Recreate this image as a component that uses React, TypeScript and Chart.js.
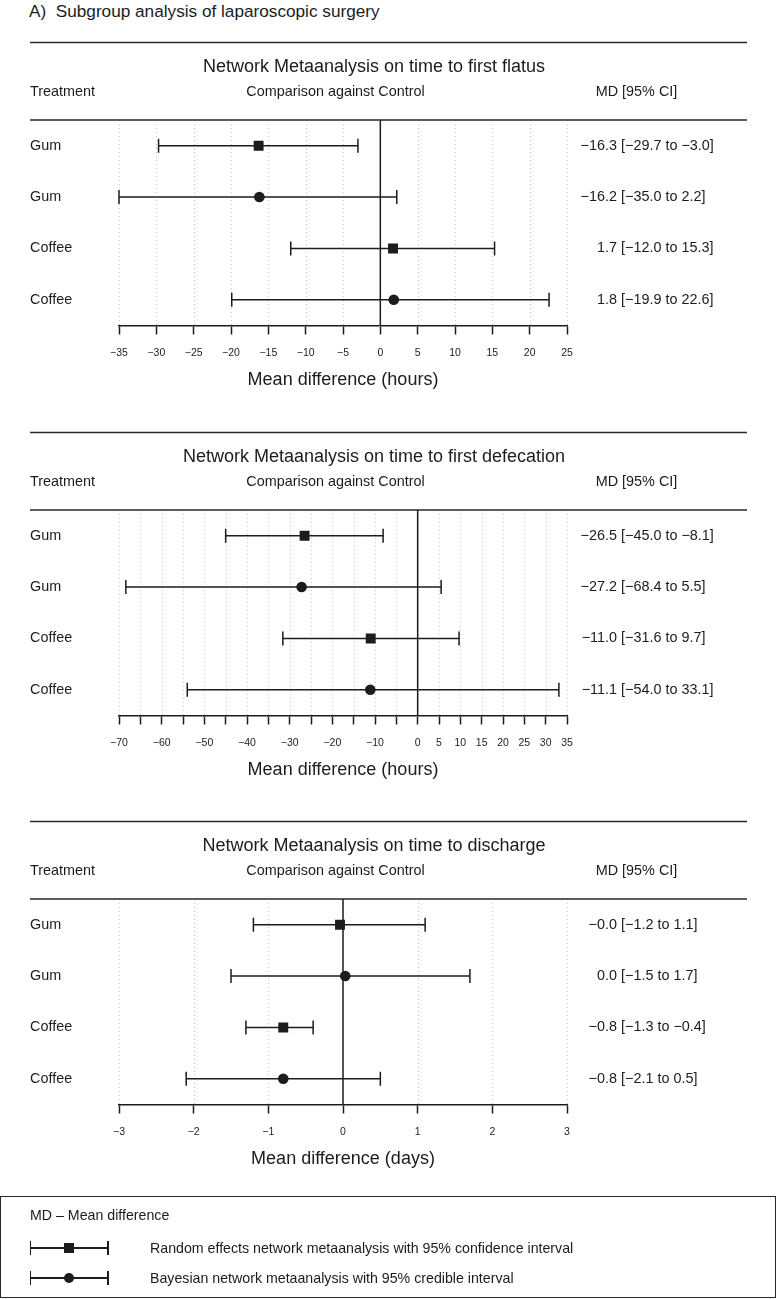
import React, { useEffect, useRef } from "react";
import { Chart, registerables } from "chart.js";

Chart.register(...registerables);

// ---------- data ----------
const treatments = ["Gum", "Gum", "Coffee", "Coffee"];
const methods = ["RE", "Bayes", "RE", "Bayes"]; // RE = square, Bayes = circle

const flatusEst = [-16.3, -16.2, 1.7, 1.8];
const flatusLo = [-29.7, -35.0, -12.0, -19.9];
const flatusHi = [-3.0, 2.2, 15.3, 22.6];
const flatusTicks = [-35, -30, -25, -20, -15, -10, -5, 0, 5, 10, 15, 20, 25];
const flatusTickLabels = [-35, -30, -25, -20, -15, -10, -5, 0, 5, 10, 15, 20, 25];

const defecEst = [-26.5, -27.2, -11.0, -11.1];
const defecLo = [-45.0, -68.4, -31.6, -54.0];
const defecHi = [-8.1, 5.5, 9.7, 33.1];
const defecTicks = [-70, -65, -60, -55, -50, -45, -40, -35, -30, -25, -20, -15, -10, -5, 0, 5, 10, 15, 20, 25, 30, 35];
const defecTickLabels = [-70, -60, -50, -40, -30, -20, -10, 0, 5, 10, 15, 20, 25, 30, 35];

const dischEst = [-0.04, 0.03, -0.8, -0.8];
const dischLo = [-1.2, -1.5, -1.3, -2.1];
const dischHi = [1.1, 1.7, -0.4, 0.5];
const dischTicks = [-3, -2, -1, 0, 1, 2, 3];
const dischTickLabels = [-3, -2, -1, 0, 1, 2, 3];

const panelTitles = [
  "Network Metaanalysis on time to first flatus",
  "Network Metaanalysis on time to first defecation",
  "Network Metaanalysis on time to discharge",
];
const axisTitles = ["Mean difference (hours)", "Mean difference (hours)", "Mean difference (days)"];

// ---------- style ----------
const FONT = '"Liberation Sans", Arial, Helvetica, sans-serif';
const INK = "#1c1c1c";
const RULE = "#2a2a2a";
const BODY = 14.4;

type Panel = {
  title: string;
  axisTitle: string;
  est: number[];
  lo: number[];
  hi: number[];
  ticks: number[];
  tickLabels: number[];
};

const panels: Panel[] = [
  { title: panelTitles[0], axisTitle: axisTitles[0], est: flatusEst, lo: flatusLo, hi: flatusHi, ticks: flatusTicks, tickLabels: flatusTickLabels },
  { title: panelTitles[1], axisTitle: axisTitles[1], est: defecEst, lo: defecLo, hi: defecHi, ticks: defecTicks, tickLabels: defecTickLabels },
  { title: panelTitles[2], axisTitle: axisTitles[2], est: dischEst, lo: dischLo, hi: dischHi, ticks: dischTicks, tickLabels: dischTickLabels },
];

const panelTops = [30, 420, 809];
const PANEL_H = 390;

const minus = (s: string) => s.replace(/-/g, "\u2212");
const fmt1 = (v: number) => minus(v.toFixed(1));

function forestPlugin(p: Panel) {
  return {
    id: "forest",
    beforeDatasetsDraw(chart: any) {
      const { ctx, chartArea: ca } = chart;
      const x = chart.scales.x;
      const y = chart.scales.y;
      ctx.save();
      // dotted reference grid
      ctx.strokeStyle = "#c4c4c4";
      ctx.lineWidth = 1;
      ctx.setLineDash([1, 3]);
      for (const v of p.ticks) {
        const px = Math.round(x.getPixelForValue(v)) + 0.5;
        ctx.beginPath();
        ctx.moveTo(px, ca.top);
        ctx.lineTo(px, ca.bottom);
        ctx.stroke();
      }
      ctx.setLineDash([]);
      // line of no effect
      ctx.strokeStyle = INK;
      ctx.lineWidth = 1.5;
      const zx = x.getPixelForValue(0);
      ctx.beginPath();
      ctx.moveTo(zx, ca.top);
      ctx.lineTo(zx, ca.bottom);
      ctx.stroke();
      // interval bars with caps
      p.est.forEach((_, i) => {
        const py = y.getPixelForValue(i);
        const x1 = x.getPixelForValue(p.lo[i]);
        const x2 = x.getPixelForValue(p.hi[i]);
        ctx.beginPath();
        ctx.moveTo(x1, py);
        ctx.lineTo(x2, py);
        ctx.moveTo(x1, py - 7);
        ctx.lineTo(x1, py + 7);
        ctx.moveTo(x2, py - 7);
        ctx.lineTo(x2, py + 7);
        ctx.stroke();
      });
      ctx.restore();
    },
    afterDraw(chart: any) {
      const { ctx, chartArea: ca } = chart;
      const y = chart.scales.y;
      ctx.save();
      // rules
      ctx.strokeStyle = RULE;
      ctx.lineWidth = 1.6;
      ctx.beginPath();
      ctx.moveTo(30, 12.5);
      ctx.lineTo(747, 12.5);
      ctx.moveTo(30, ca.top);
      ctx.lineTo(747, ca.top);
      ctx.stroke();
      // headings
      ctx.fillStyle = INK;
      ctx.textBaseline = "middle";
      ctx.font = `18px ${FONT}`;
      ctx.textAlign = "center";
      ctx.fillText(p.title, 374, 37.5);
      ctx.font = `${BODY}px ${FONT}`;
      ctx.fillText("Comparison against Control", 335.5, 62.5);
      ctx.fillText("MD [95% CI]", 636.5, 62.5);
      ctx.textAlign = "left";
      ctx.fillText("Treatment", 30, 62.5);
      // rows
      p.est.forEach((e, i) => {
        const py = y.getPixelForValue(i);
        ctx.textAlign = "left";
        ctx.fillText(treatments[i], 30, py);
        ctx.textAlign = "right";
        ctx.fillText(fmt1(e), 617, py);
        ctx.textAlign = "left";
        ctx.fillText(` [${fmt1(p.lo[i])} to ${fmt1(p.hi[i])}]`, 617, py);
      });
      ctx.restore();
    },
  };
}

function ForestPanel({ panel, top }: { panel: Panel; top: number }) {
  const ref = useRef<HTMLCanvasElement | null>(null);
  useEffect(() => {
    if (!ref.current) return;
    const idx = treatments.map((_, i) => i);
    const chart = new Chart(ref.current, {
      type: "scatter",
      data: {
        datasets: [
          {
            label: "Random effects network metaanalysis",
            data: idx.filter((i) => methods[i] === "RE").map((i) => ({ x: panel.est[i], y: i })),
            pointStyle: "rect",
            pointRadius: 7,
            pointBackgroundColor: INK,
            pointBorderColor: INK,
            pointBorderWidth: 0,
          },
          {
            label: "Bayesian network metaanalysis",
            data: idx.filter((i) => methods[i] === "Bayes").map((i) => ({ x: panel.est[i], y: i })),
            pointStyle: "circle",
            pointRadius: 5.3,
            pointBackgroundColor: INK,
            pointBorderColor: INK,
            pointBorderWidth: 0,
          },
        ],
      },
      options: {
        animation: false,
        responsive: false,
        events: [],
        layout: { padding: { left: 119, right: 209, top: 90, bottom: 29.5 } },
        plugins: { legend: { display: false }, tooltip: { enabled: false } },
        scales: {
          y: { type: "linear", min: -0.5, max: 3.5, reverse: true, display: false },
          x: {
            type: "linear",
            min: panel.ticks[0],
            max: panel.ticks[panel.ticks.length - 1],
            afterBuildTicks: (scale: any) => {
              scale.ticks = panel.ticks.map((v) => ({ value: v }));
            },
            afterFit: (scale: any) => {
              scale.height = 65;
            },
            ticks: {
              autoSkip: false,
              maxRotation: 0,
              padding: 12,
              color: INK,
              font: { family: FONT, size: 10.5 },
              callback: (v: any) => (panel.tickLabels.includes(Number(v)) ? minus(String(v)) : ""),
            },
            grid: {
              display: true,
              drawOnChartArea: false,
              drawTicks: true,
              tickLength: 9,
              tickColor: INK,
              tickWidth: 1.5,
            },
            border: { display: true, color: INK, width: 1.5 },
            title: {
              display: true,
              text: panel.axisTitle,
              color: INK,
              font: { family: FONT, size: 18 },
              padding: 0,
            },
          },
        },
      },
      plugins: [forestPlugin(panel)],
    } as any);
    return () => chart.destroy();
  }, [panel]);
  return (
    <canvas
      ref={ref}
      width={776}
      height={PANEL_H}
      style={{ position: "absolute", left: 0, top, width: 776, height: PANEL_H }}
    />
  );
}

function LegendIcon({ y, shape }: { y: number; shape: "square" | "circle" }) {
  return (
    <>
      <div style={{ position: "absolute", left: 30, top: y - 0.75, width: 78, height: 1.5, background: INK }} />
      <div style={{ position: "absolute", left: 29.5, top: y - 7, width: 1.5, height: 14, background: INK }} />
      <div style={{ position: "absolute", left: 107, top: y - 7, width: 1.5, height: 14, background: INK }} />
      <div
        style={{
          position: "absolute",
          left: 64,
          top: y - 5,
          width: 10,
          height: 10,
          background: INK,
          borderRadius: shape === "circle" ? "50%" : 0,
        }}
      />
    </>
  );
}

const legendTextStyle = (top: number, left: number): React.CSSProperties => ({
  position: "absolute",
  left,
  top: top - 10,
  height: 20,
  lineHeight: "20px",
  fontSize: 14.2,
  fontFamily: FONT,
  color: INK,
  whiteSpace: "pre",
});

export default function App() {
  return (
    <div style={{ position: "absolute", left: 0, top: 0, width: 776, height: 1299, background: "#fff" }}>
      <div
        style={{
          position: "absolute",
          left: 29,
          top: 1,
          height: 20,
          lineHeight: "20px",
          fontSize: 17.2,
          fontFamily: FONT,
          color: INK,
          whiteSpace: "pre",
        }}
      >
        {"A)  Subgroup analysis of laparoscopic surgery"}
      </div>
      {panels.map((p, i) => (
        <ForestPanel key={i} panel={p} top={panelTops[i]} />
      ))}
      <div
        style={{
          position: "absolute",
          left: 0,
          top: 1196,
          width: 776,
          height: 102,
          border: `1.5px solid ${RULE}`,
          boxSizing: "border-box",
        }}
      />
      <div style={legendTextStyle(1215, 30)}>MD – Mean difference</div>
      <LegendIcon y={1248} shape="square" />
      <div style={legendTextStyle(1248, 150)}>Random effects network metaanalysis with 95% confidence interval</div>
      <LegendIcon y={1278} shape="circle" />
      <div style={legendTextStyle(1278, 150)}>Bayesian network metaanalysis with 95% credible interval</div>
    </div>
  );
}
